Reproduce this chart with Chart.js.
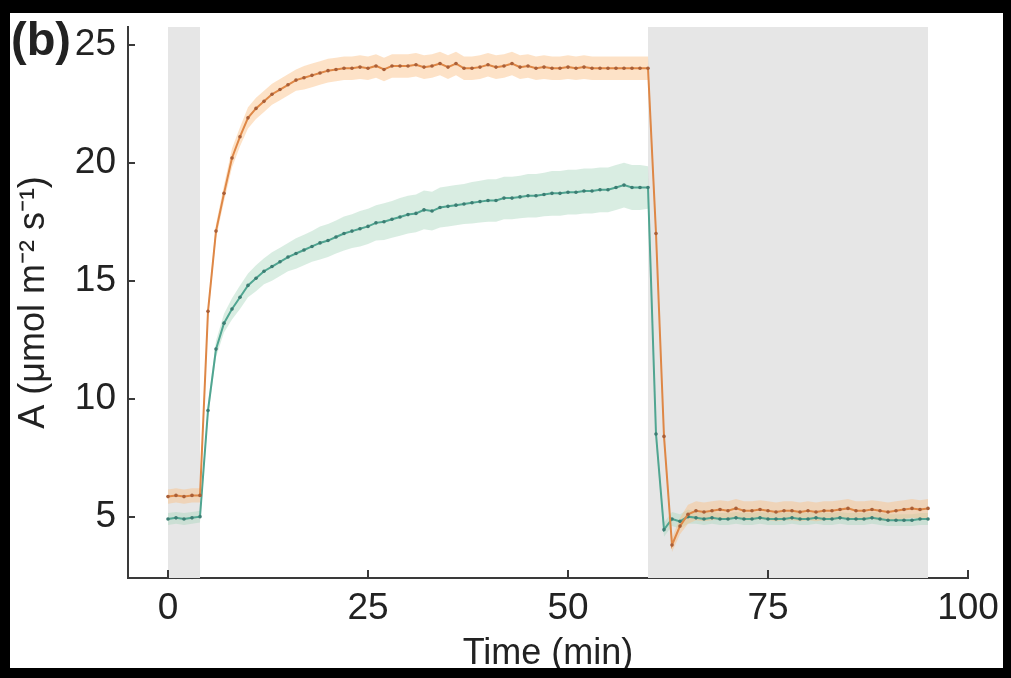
<!DOCTYPE html>
<html>
<head>
<meta charset="utf-8">
<script src="https://cdn.jsdelivr.net/npm/chart.js@4.4.0/dist/chart.umd.min.js"></script>
<style>
  html, body { margin: 0; padding: 0; background: #000; }
  #panel { position: absolute; left: 10px; top: 13px; width: 993px; height: 655px; background: #fff; }
  #tag { position: absolute; left: 1px; top: 2px; font: bold 47px "Liberation Sans", Arial, sans-serif; color: #222; line-height: 47px; }
  canvas { position: absolute; left: 0; top: 0; }
</style>
</head>
<body>
<div id="panel">
  <canvas id="chart" width="993" height="655"></canvas>
  <div id="tag">(b)</div>
</div>
<script>
// sampling times (min)
const times = [0,1,2,3,4,5,6,7,8,9,10,11,12,13,14,15,16,17,18,19,
  20,21,22,23,24,25,26,27,28,29,30,31,32,33,34,35,36,37,38,39,
  40,41,42,43,44,45,46,47,48,49,50,51,52,53,54,55,56,57,58,59,
  60,61,62,63,64,65,66,67,68,69,70,71,72,73,74,75,76,77,78,79,
  80,81,82,83,84,85,86,87,88,89,90,91,92,93,94,95];

// orange trace (mean and spread)
const orangeA = [5.85,5.9,5.85,5.9,5.9,
  13.7,17.1,18.7,20.2,21.1,21.9,22.3,22.6,22.9,23.1,23.3,23.5,23.6,23.7,23.8,
  23.9,23.95,24.0,24.0,24.05,24.0,24.1,23.95,24.1,24.1,24.1,24.15,24.05,24.1,24.2,24.05,24.2,24.0,24.0,24.05,
  24.15,24.05,24.1,24.2,24.05,24.1,24.0,24.05,24.0,24.0,24.05,24.0,24.05,24.0,24.0,24.0,24.0,24.0,24.0,24.0,24.0,
  17.0,8.4,3.8,4.6,5.1,
  5.25,5.2,5.25,5.3,5.25,5.35,5.25,5.25,5.3,5.25,5.2,5.25,5.25,5.2,5.25,5.2,5.25,5.25,5.3,5.35,
  5.25,5.25,5.3,5.25,5.2,5.25,5.3,5.35,5.3,5.35];
const orangeErr = [0.3,0.3,0.3,0.3,0.3,
  0.2,0.3,0.35,0.4,0.4,0.45,0.45,0.45,0.45,0.45,0.45,0.45,0.5,0.5,0.5,
  0.5,0.5,0.5,0.5,0.5,0.5,0.5,0.5,0.5,0.5,0.5,0.5,0.5,0.5,0.5,0.5,0.5,0.5,0.5,0.5,
  0.5,0.5,0.5,0.5,0.5,0.5,0.5,0.5,0.5,0.5,0.5,0.5,0.5,0.5,0.5,0.5,0.5,0.5,0.5,0.5,0.5,
  0.4,0.3,0.3,0.35,0.4,
  0.4,0.4,0.4,0.4,0.4,0.4,0.4,0.4,0.4,0.4,0.4,0.4,0.4,0.4,0.4,0.4,0.4,0.4,0.4,0.4,
  0.4,0.4,0.4,0.4,0.4,0.4,0.4,0.4,0.4,0.4];

// teal trace (mean and spread)
const tealA = [4.9,4.95,4.9,4.95,5.0,
  9.5,12.1,13.2,13.8,14.3,14.8,15.1,15.4,15.6,15.8,16.0,16.15,16.3,16.45,16.6,
  16.7,16.85,17.0,17.1,17.2,17.3,17.45,17.5,17.6,17.7,17.8,17.85,18.0,17.95,18.1,18.15,18.2,18.25,18.3,18.35,
  18.4,18.4,18.5,18.5,18.55,18.6,18.6,18.65,18.7,18.7,18.75,18.75,18.8,18.8,18.85,18.85,18.95,19.05,18.95,18.95,18.95,
  8.5,4.45,4.9,4.8,5.0,
  4.95,4.9,4.95,4.9,4.9,4.95,4.9,4.9,4.95,4.9,4.9,4.9,4.95,4.9,4.9,4.95,4.9,4.9,4.95,4.9,
  4.9,4.9,4.95,4.9,4.85,4.85,4.85,4.85,4.9,4.9];
const tealErr = [0.25,0.25,0.25,0.25,0.25,
  0.3,0.35,0.4,0.45,0.5,0.5,0.55,0.55,0.6,0.6,0.6,0.65,0.65,0.65,0.7,
  0.7,0.7,0.72,0.72,0.75,0.75,0.75,0.78,0.78,0.8,0.8,0.8,0.82,0.82,0.85,0.85,0.85,0.85,0.88,0.88,
  0.9,0.9,0.9,0.9,0.9,0.92,0.92,0.92,0.95,0.95,0.95,0.95,0.95,0.95,0.95,0.95,0.95,0.95,0.95,0.95,0.9,
  0.4,0.3,0.3,0.3,0.3,
  0.25,0.25,0.25,0.25,0.25,0.25,0.25,0.25,0.25,0.25,0.25,0.25,0.25,0.25,0.25,0.25,0.25,0.25,0.25,0.25,
  0.25,0.25,0.25,0.25,0.25,0.25,0.25,0.25,0.25,0.25];

// dark (light-off) periods
const darkPeriods = [[0, 4], [60, 95]];

const xTicks = [0, 25, 50, 75, 100];
const yTicks = [5, 10, 15, 20, 25];

const pts = (ys) => times.map((t, i) => ({x: t, y: ys[i]}));
const upper = (ys, e) => ys.map((v, i) => v + e[i]);
const lower = (ys, e) => ys.map((v, i) => v - e[i]);

const FONT = '"Liberation Sans", Arial, sans-serif';
const AXIS = '#3a3a3a';

const shading = {
    id: 'shading',
    beforeDatasetsDraw(chart) {
        const {ctx, chartArea, scales: {x}} = chart;
        ctx.save();
        ctx.fillStyle = '#e6e6e6';
        darkPeriods.forEach(([a, b]) => {
            const x0 = x.getPixelForValue(a);
            const x1 = x.getPixelForValue(b);
            ctx.fillRect(x0, chartArea.top, x1 - x0, chartArea.bottom - chartArea.top);
        });
        ctx.restore();
    }
};

// tick marks point inwards
const innerTicks = {
    id: 'innerTicks',
    afterDraw(chart) {
        const {ctx, chartArea, scales: {x, y}} = chart;
        ctx.save();
        ctx.strokeStyle = AXIS;
        ctx.lineWidth = 2;
        ctx.beginPath();
        x.ticks.forEach(t => {
            const px = Math.round(x.getPixelForValue(t.value));
            ctx.moveTo(px, chartArea.bottom);
            ctx.lineTo(px, chartArea.bottom - 8);
        });
        y.ticks.forEach(t => {
            const py = Math.round(y.getPixelForValue(t.value));
            ctx.moveTo(chartArea.left, py);
            ctx.lineTo(chartArea.left + 7, py);
        });
        ctx.stroke();
        ctx.restore();
    }
};

new Chart(document.getElementById('chart'), {
    type: 'line',
    data: {
        datasets: [
            {
                data: pts(orangeA),
                borderColor: 'rgb(222,135,70)',
                borderWidth: 2,
                pointRadius: 1.8,
                pointBackgroundColor: 'rgb(170,95,55)',
                pointBorderWidth: 0,
                fill: false,
                order: 0
            },
            {
                data: pts(tealA),
                borderColor: 'rgb(80,165,145)',
                borderWidth: 2,
                pointRadius: 1.8,
                pointBackgroundColor: 'rgb(60,125,115)',
                pointBorderWidth: 0,
                fill: false,
                order: 1
            },
            {
                data: pts(upper(orangeA, orangeErr)),
                borderWidth: 0,
                pointRadius: 0,
                backgroundColor: 'rgba(250,190,130,0.45)',
                fill: '+1',
                order: 2
            },
            {
                data: pts(lower(orangeA, orangeErr)),
                borderWidth: 0,
                pointRadius: 0,
                fill: false,
                order: 3
            },
            {
                data: pts(upper(tealA, tealErr)),
                borderWidth: 0,
                pointRadius: 0,
                backgroundColor: 'rgba(170,215,190,0.45)',
                fill: '+1',
                order: 4
            },
            {
                data: pts(lower(tealA, tealErr)),
                borderWidth: 0,
                pointRadius: 0,
                fill: false,
                order: 5
            }
        ]
    },
    options: {
        responsive: false,
        animation: false,
        layout: {padding: {left: 0, right: 35, top: 14, bottom: 0}},
        plugins: {legend: {display: false}, tooltip: {enabled: false}},
        scales: {
            x: {
                type: 'linear',
                min: -5,
                max: 100,
                afterBuildTicks: s => { s.ticks = xTicks.map(v => ({value: v})); },
                afterFit: s => { s.height = 90; s.paddingLeft = 0; s.paddingRight = 0; },
                grid: {display: false, drawTicks: false},
                border: {display: true, color: AXIS, width: 2},
                ticks: {autoSkip: false, maxRotation: 0, padding: 9, color: '#222',
                        font: {family: FONT, size: 37}},
                title: {display: true, text: 'Time (min)', color: '#222',
                        font: {family: FONT, size: 36, lineHeight: 1}, padding: {top: 0, bottom: -4}}
            },
            y: {
                min: 2.4,
                max: 25.75,
                afterBuildTicks: s => { s.ticks = yTicks.map(v => ({value: v})); },
                afterFit: s => { s.width = 118; s.paddingTop = 0; s.paddingBottom = 0; },
                grid: {display: false, drawTicks: false},
                border: {display: true, color: AXIS, width: 2},
                ticks: {autoSkip: false, padding: 12, color: '#222',
                        font: {family: FONT, size: 37}},
                title: {display: true, text: 'A (μmol m⁻² s⁻¹)', color: '#222',
                        font: {family: FONT, size: 36, lineHeight: 1}, padding: {top: 6, bottom: 0}}
            }
        }
    },
    plugins: [shading, innerTicks]
});
</script>
</body>
</html>
